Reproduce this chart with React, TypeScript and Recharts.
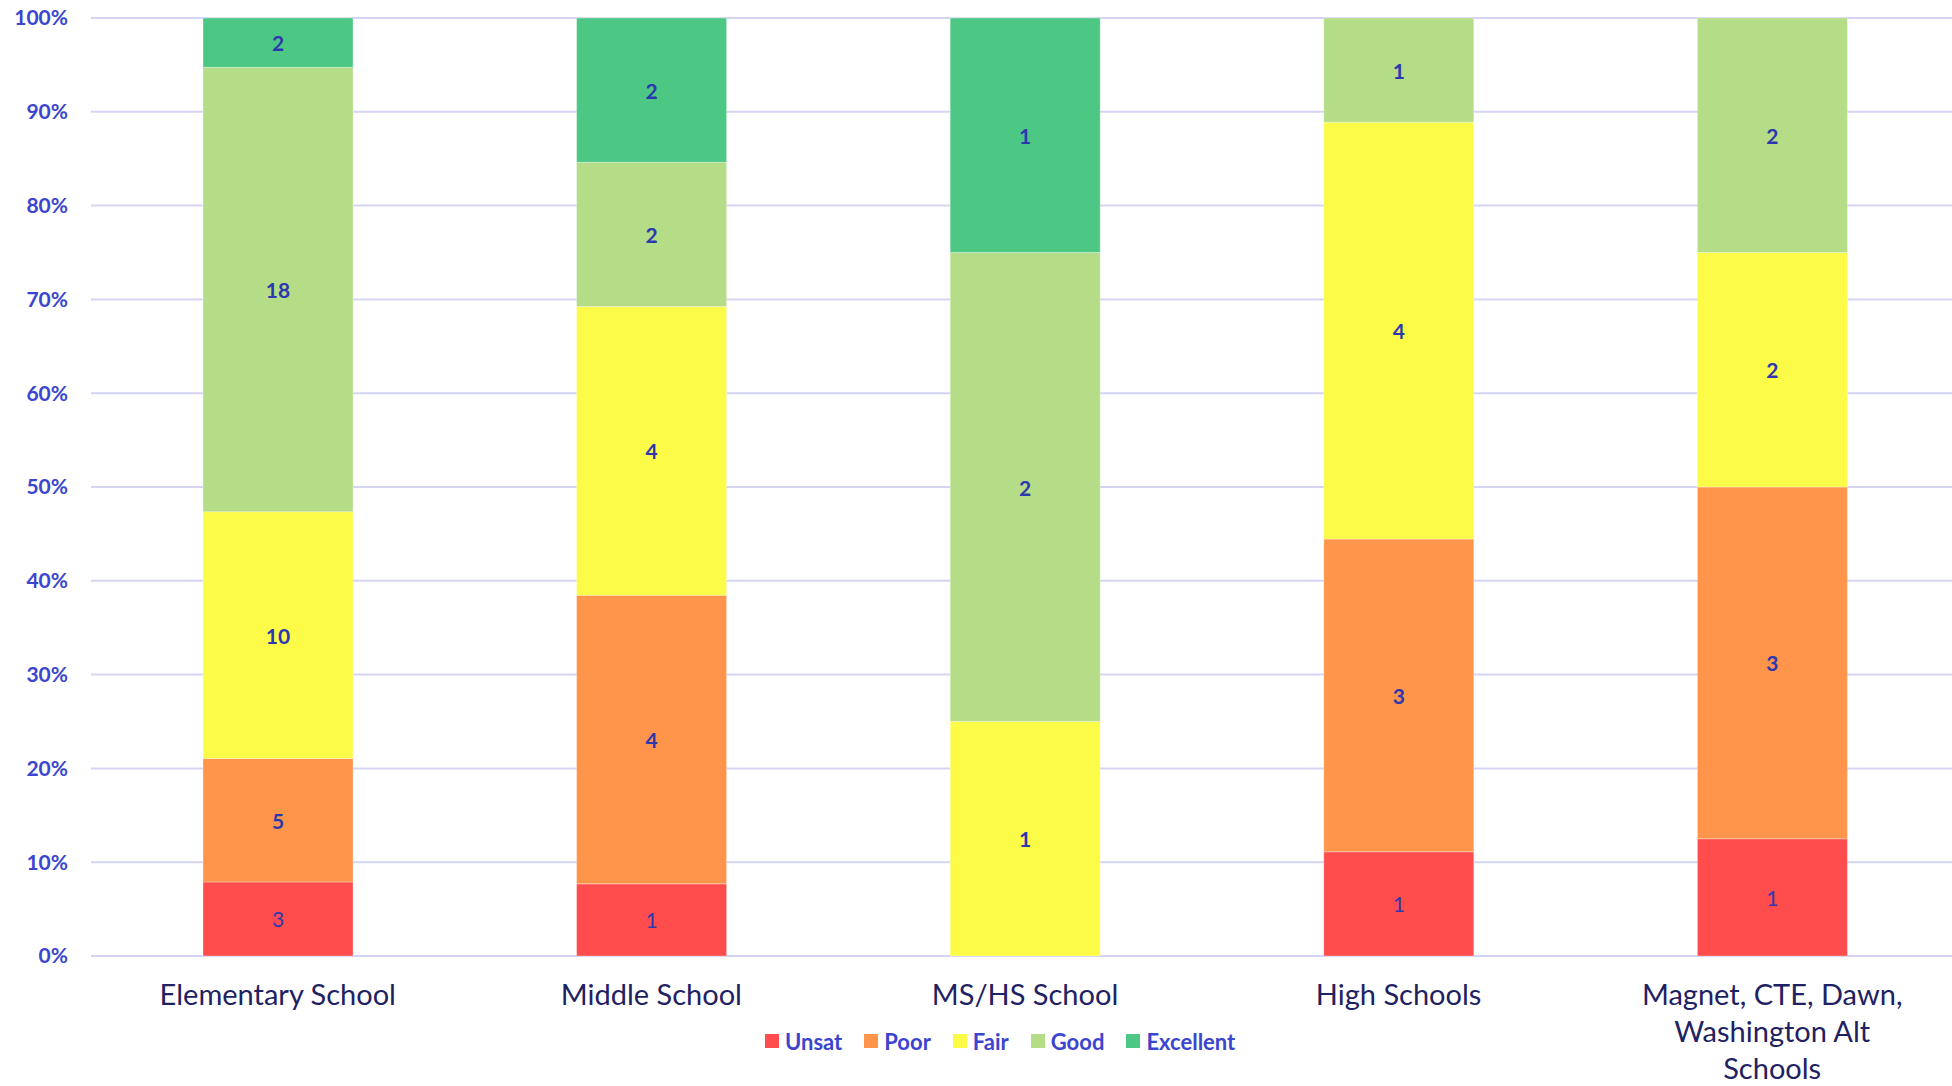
import React from 'react';
import {
  BarChart,
  Bar,
  XAxis,
  YAxis,
  CartesianGrid,
  Legend,
  LabelList,
} from 'recharts';

const categories = [
  'Elementary School',
  'Middle School',
  'MS/HS School',
  'High Schools',
  'Magnet, CTE, Dawn, Washington Alt Schools',
];

// wrapped the way the source wraps the long category name
const categoryLines = [
  ['Elementary School'],
  ['Middle School'],
  ['MS/HS School'],
  ['High Schools'],
  ['Magnet, CTE, Dawn,', 'Washington Alt', 'Schools'],
];

const unsat = [3, 1, 0, 1, 1];
const poor = [5, 4, 0, 3, 3];
const fair = [10, 4, 1, 4, 2];
const good = [18, 2, 2, 1, 2];
const excellent = [2, 2, 1, 0, 0];

const yTicks = [0, 0.1, 0.2, 0.3, 0.4, 0.5, 0.6, 0.7, 0.8, 0.9, 1];

const series = [
  { key: 'unsat', name: 'Unsat', color: '#FF4D4D', bold: false },
  { key: 'poor', name: 'Poor', color: '#FF944B', bold: true },
  { key: 'fair', name: 'Fair', color: '#FCFC48', bold: true },
  { key: 'good', name: 'Good', color: '#B5DC86', bold: true },
  { key: 'excellent', name: 'Excellent', color: '#4DC884', bold: true },
];

const chartData = categories.map((category, i) => ({
  category,
  unsat: unsat[i],
  poor: poor[i],
  fair: fair[i],
  good: good[i],
  excellent: excellent[i],
}));

const FONT = 'Lato, "Open Sans", sans-serif';
const AXIS_BLUE = '#3B45CF';
const LABEL_BLUE = '#2D38B0';
const NAVY = '#1F2262';

const CategoryTick = (props: any) => {
  const { x, y, payload } = props;
  const lines = categoryLines[categories.indexOf(payload.value)] || [payload.value];
  return (
    <text
      x={x}
      y={y}
      textAnchor="middle"
      fill={NAVY}
      fontFamily={FONT}
      fontSize={29}
    >
      {lines.map((line: string, i: number) => (
        <tspan key={i} x={x} dy={i === 0 ? 49 : 37}>
          {line}
        </tspan>
      ))}
    </text>
  );
};

const makeSegmentLabel = (bold: boolean) => (props: any) => {
  const { x, y, width, height, value } = props;
  if (!value) return null;
  return (
    <text
      x={x + width / 2}
      y={y + height / 2}
      textAnchor="middle"
      dominantBaseline="central"
      fill={LABEL_BLUE}
      fontFamily={FONT}
      fontSize={21}
      fontWeight={bold ? 700 : 400}
    >
      {value}
    </text>
  );
};

const renderLegend = () => (
  <div style={{ display: 'flex', alignItems: 'center', height: 28, whiteSpace: 'nowrap' }}>
    {series.map((s, i) => (
      <div
        key={s.key}
        style={{ display: 'flex', alignItems: 'center', marginLeft: i === 0 ? 0 : 22 }}
      >
        <span style={{ width: 14, height: 14, background: s.color, display: 'inline-block' }} />
        <span
          style={{
            marginLeft: 6,
            color: AXIS_BLUE,
            fontFamily: FONT,
            fontWeight: 700,
            fontSize: 22,
          }}
        >
          {s.name}
        </span>
      </div>
    ))}
  </div>
);

const App: React.FC = () => {
  return (
    <div
      style={{
        position: 'absolute',
        top: 0,
        left: 0,
        width: 1952,
        height: 1086,
        overflow: 'hidden',
        background: '#fff',
      }}
    >
      <BarChart
        width={1959}
        height={1086}
        data={chartData}
        stackOffset="expand"
        barSize={150}
        margin={{ top: 18, right: 0, left: 0, bottom: 0 }}
      >
        <CartesianGrid vertical={false} stroke="#D5D5F3" strokeWidth={2} />
        <XAxis
          dataKey="category"
          axisLine={false}
          tickLine={false}
          tickSize={0}
          tickMargin={0}
          interval={0}
          height={130}
          tick={<CategoryTick />}
        />
        <YAxis
          width={91}
          domain={[0, 1]}
          ticks={yTicks}
          axisLine={false}
          tickLine={false}
          tickSize={0}
          tickMargin={23}
          tickFormatter={(v: number) => `${Math.round(v * 100)}%`}
          tick={{ fill: AXIS_BLUE, fontFamily: FONT, fontWeight: 700, fontSize: 21 }}
        />
        <Legend
          layout="horizontal"
          verticalAlign="middle"
          align="center"
          content={renderLegend}
          wrapperStyle={{ top: 1027, left: 765, width: 540, height: 28 }}
        />
        {series.map((s) => (
          <Bar
            key={s.key}
            dataKey={s.key}
            name={s.name}
            stackId="a"
            fill={s.color}
            stroke="#ffffff"
            strokeOpacity={0.3}
            strokeWidth={1}
            isAnimationActive={false}
          >
            <LabelList dataKey={s.key} content={makeSegmentLabel(s.bold)} />
          </Bar>
        ))}
      </BarChart>
    </div>
  );
};

export default App;
